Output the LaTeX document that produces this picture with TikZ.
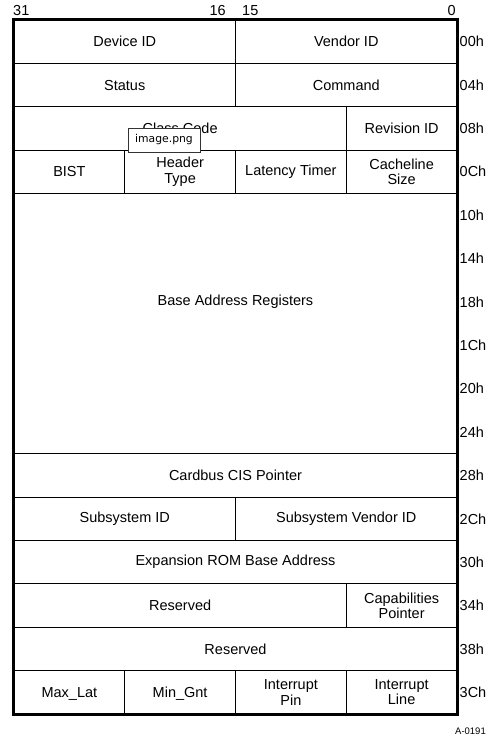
\documentclass[tikz,border=0pt]{standalone}
\usepackage{fontspec}
\setmainfont{Liberation Sans}
\newfontfamily\tipfont{DejaVu Sans}
\begin{document}
\begin{tikzpicture}[x=1pt,y=-1pt,
  cell/.style={draw=black, line width=0.9pt, inner sep=0pt, align=center,
    font=\fontsize{14.5}{15.5}\selectfont},
  offs/.style={anchor=west, inner sep=0pt, font=\fontsize{14.5}{15.5}\selectfont},
  bitlbl/.style={inner sep=0pt, font=\fontsize{14.5}{15.5}\selectfont},
  tip/.style={draw=black!80, fill=white, line width=0.8pt, inner sep=0pt,
    minimum width=72pt, minimum height=24pt, font=\tipfont\fontsize{10.8}{12}\selectfont}]
\useasboundingbox (0,0) rectangle (492,738);
\newcommand\Cell[6]{\node[cell, minimum width={110.75pt*(#3-#2)}, minimum height={43.375pt*(#5-#4)}] (#1) at ({14+110.75*(#2+#3)/2},{20+43.375*(#4+#5)/2}) {#6};}
\newcommand\Offs[3]{\node[offs] (#1) at (459.5,{20+43.375*(#2+0.5)}) {#3};}
% row 00h
\Cell{devid}{0}{2}{0}{1}{Device ID}
\Cell{venid}{2}{4}{0}{1}{Vendor ID}
% 04h
\Cell{status}{0}{2}{1}{2}{Status}
\Cell{command}{2}{4}{1}{2}{Command}
% 08h
\Cell{classcode}{0}{3}{2}{3}{Class Code}
\Cell{revid}{3}{4}{2}{3}{Revision ID}
% 0Ch
\Cell{bist}{0}{1}{3}{4}{BIST}
\Cell{hdr}{1}{2}{3}{4}{Header\\Type}
\Cell{lat}{2}{3}{3}{4}{Latency Timer}
\Cell{cache}{3}{4}{3}{4}{Cacheline\\Size}
% BAR
\Cell{bar}{0}{4}{4}{10}{}
\node[cell, draw=none] (bartext) at (235.5,{20+43.375*6.5}) {Base Address Registers};
\Cell{cis}{0}{4}{10}{11}{Cardbus CIS Pointer}
\Cell{subid}{0}{2}{11}{12}{Subsystem ID}
\Cell{subvid}{2}{4}{11}{12}{Subsystem Vendor ID}
\Cell{rom}{0}{4}{12}{13}{Expansion ROM Base Address}
\Cell{res1}{0}{3}{13}{14}{Reserved}
\Cell{cap}{3}{4}{13}{14}{Capabilities\\Pointer}
\Cell{res2}{0}{4}{14}{15}{Reserved}
\Cell{maxlat}{0}{1}{15}{16}{Max\smash{\_}Lat}
\Cell{mingnt}{1}{2}{15}{16}{Min\smash{\_}Gnt}
\Cell{intpin}{2}{3}{15}{16}{Interrupt\\Pin}
\Cell{intline}{3}{4}{15}{16}{Interrupt\\Line}
% outer border
\draw[line width=2.2pt] (devid.north west) rectangle (intline.south east);
% offsets
\Offs{o00}{0}{00h}
\Offs{o04}{1}{04h}
\Offs{o08}{2}{08h}
\Offs{o0C}{3}{0Ch}
\Offs{o10}{4}{10h}
\Offs{o14}{5}{14h}
\Offs{o18}{6}{18h}
\Offs{o1C}{7}{1Ch}
\Offs{o20}{8}{20h}
\Offs{o24}{9}{24h}
\Offs{o28}{10}{28h}
\Offs{o2C}{11}{2Ch}
\Offs{o30}{12}{30h}
\Offs{o34}{13}{34h}
\Offs{o38}{14}{38h}
\Offs{o3C}{15}{3Ch}
% bit numbers
\node[bitlbl, anchor=west] (b31) at (13,11) {31};
\node[bitlbl, anchor=east] (b16) at (226,11) {16};
\node[bitlbl, anchor=west] (b15) at (242,11) {15};
\node[bitlbl, anchor=east] (b0) at (456,11) {0};
% figure id
\node[anchor=east, inner sep=0pt, font=\fontsize{9.5}{10}\selectfont] (figid) at (486,731) {A-0191};
% tooltip overlay
\node[tip] (tooltip) at (164,140) {image.png};
\end{tikzpicture}
\end{document}
